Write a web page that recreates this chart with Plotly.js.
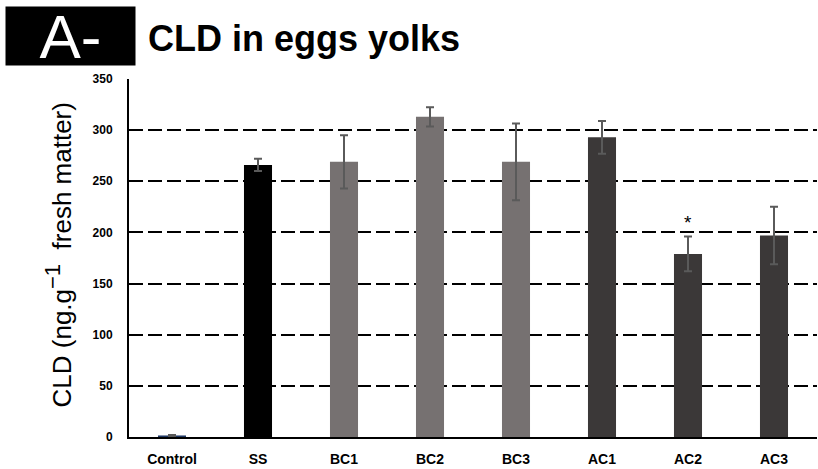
<!DOCTYPE html>
<html>
<head>
<meta charset="utf-8">
<script src="https://cdn.plot.ly/plotly-3.0.1.min.js"></script>
<style>html,body{margin:0;padding:0;background:#fff;}#chart{width:818px;height:469px;}</style>
</head>
<body>
<div id="chart"></div>
<script>
const categories = ["Control", "SS", "BC1", "BC2", "BC3", "AC1", "AC2", "AC3"];
const values = [1.5, 266, 269, 313, 269, 293, 179, 197];
const errors = [0.5, 6, 26, 9.5, 37.5, 16, 17, 28];
const barColors = ["#1f3864", "#000000", "#767171", "#767171", "#767171", "#3b3838", "#3b3838", "#3b3838"];
const yTicks = [0, 50, 100, 150, 200, 250, 300, 350];
const significance = [{cat: "AC2", y: 210, text: "*"}];

const font = "Liberation Sans, Arial, sans-serif";

const trace = {
  type: "bar",
  x: categories,
  y: values,
  marker: {color: barColors},
  error_y: {type: "data", array: errors, visible: true, color: "#5a5a5a", thickness: 2, width: 4},
  hoverinfo: "none"
};

const annotations = significance.map(s => ({
  x: s.cat, y: s.y, xref: "x", yref: "y", text: s.text, showarrow: false,
  font: {family: font, size: 19, color: "#000"}
}));

annotations.push({
  xref: "paper", yref: "paper", x: -0.1325, y: 0.508, textangle: -90,
  text: "CLD (ng.g<sup><span style=\"font-size:22px\">−1</span></sup>  fresh matter)", showarrow: false,
  font: {family: font, size: 26, color: "#000"}
});

annotations.push({
  xref: "paper", yref: "paper", x: (70.5 - 129) / 688, y: (437 - 36) / 358,
  xanchor: "center", yanchor: "middle",
  text: "A-", showarrow: false, bgcolor: "#000", borderpad: 0,
  width: 129, height: 58,
  font: {family: font, size: 62, color: "#fff"}
});

const layout = {
  width: 818, height: 469,
  margin: {l: 129, r: 1, t: 79, b: 32, pad: 0},
  paper_bgcolor: "#fff", plot_bgcolor: "#fff",
  showlegend: false,
  bargap: 0.674,
  title: {
    text: "<b>CLD in eggs yolks</b>",
    font: {family: font, size: 36, color: "#000"},
    x: 148 / 818, xanchor: "left", xref: "container",
    y: 1 - 38 / 469, yanchor: "middle", yref: "container"
  },
  xaxis: {
    showline: true, linecolor: "#000", linewidth: 2,
    ticks: "", showgrid: false, zeroline: false,
    tickfont: {family: font, size: 14, color: "#000", weight: "bold"},
    ticklabelstandoff: 8
  },
  yaxis: {
    range: [0, 350], tickvals: yTicks, ticktext: yTicks.map(String),
    showline: true, linecolor: "#000", linewidth: 2,
    showgrid: true, gridcolor: "#000", gridwidth: 2, griddash: "14px,5px",
    zeroline: false, ticks: "",
    tickfont: {family: font, size: 12, color: "#000", weight: "bold"},
    ticklabelstandoff: 12
  },
  annotations: annotations
};

Plotly.newPlot("chart", [trace], layout, {displayModeBar: false, staticPlot: true});
</script>
</body>
</html>
